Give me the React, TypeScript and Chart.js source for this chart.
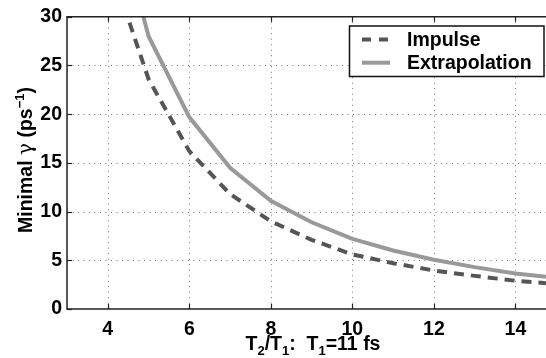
import React, { useEffect, useRef } from "react";
import { Chart, registerables } from "chart.js";

Chart.register(...registerables);

// T2/T1 ratios
const impulseX = [4, 5, 6, 7, 8, 9, 10, 11, 12, 13, 14, 14.75];
const impulseY = [36, 23.6, 16.2, 11.8, 9.0, 7.1, 5.6, 4.7, 3.95, 3.4, 2.9, 2.65];
const extrapX = [4.75, 5, 6, 7, 8, 9, 10, 11, 12, 13, 14, 14.75];
const extrapY = [32, 28, 19.7, 14.5, 11.1, 8.9, 7.2, 6.0, 5.05, 4.3, 3.65, 3.3];
const xTickValues = [4, 6, 8, 10, 12, 14];
const yTickValues = [0, 5, 10, 15, 20, 25, 30];
const legendLabels = ["Impulse", "Extrapolation"];

const FONT = "'Liberation Sans', Arial, sans-serif";
const FS = 19.5;

const framePlugin = {
  id: "matlabFrame",
  beforeDatasetsDraw(chart: any) {
    const { ctx, chartArea: a, scales } = chart;
    const xs = scales.x, ys = scales.y;
    ctx.save();
    ctx.strokeStyle = "#777";
    ctx.lineWidth = 1;
    ctx.setLineDash([1, 4.5]);
    xTickValues.forEach((v) => {
      const px = Math.round(xs.getPixelForValue(v)) + 0.5;
      ctx.beginPath();
      ctx.moveTo(px, a.top);
      ctx.lineTo(px, a.bottom);
      ctx.stroke();
    });
    yTickValues.forEach((v) => {
      if (v === 0 || v === 30) return;
      const py = Math.round(ys.getPixelForValue(v)) + 0.5;
      ctx.beginPath();
      ctx.moveTo(a.left, py);
      ctx.lineTo(a.right, py);
      ctx.stroke();
    });
    ctx.restore();
  },
  afterDraw(chart: any) {
    const { ctx, chartArea: a, scales } = chart;
    const xs = scales.x, ys = scales.y;
    ctx.save();
    // frame
    ctx.strokeStyle = "#222";
    ctx.lineWidth = 1.5;
    ctx.setLineDash([]);
    ctx.beginPath();
    ctx.moveTo(a.right, a.top);
    ctx.lineTo(a.left, a.top);
    ctx.lineTo(a.left, a.bottom);
    ctx.lineTo(a.right, a.bottom);
    ctx.stroke();
    // inward ticks
    ctx.lineWidth = 1.2;
    xTickValues.forEach((v) => {
      const px = Math.round(xs.getPixelForValue(v)) + 0.5;
      ctx.beginPath();
      ctx.moveTo(px, a.bottom);
      ctx.lineTo(px, a.bottom - 5);
      ctx.moveTo(px, a.top);
      ctx.lineTo(px, a.top + 5);
      ctx.stroke();
    });
    yTickValues.forEach((v) => {
      const py = Math.round(ys.getPixelForValue(v)) + 0.5;
      ctx.beginPath();
      ctx.moveTo(a.left, py);
      ctx.lineTo(a.left + 5, py);
      ctx.stroke();
    });

    // legend
    const lx = 349.5, ly = 26, lw = 194.5, lh = 50.5;
    ctx.fillStyle = "#fff";
    ctx.fillRect(lx, ly, lw, lh);
    ctx.strokeStyle = "#111";
    ctx.lineWidth = 1.5;
    ctx.strokeRect(lx, ly, lw, lh);
    const rows = [39.5, 62.7];
    ctx.lineWidth = 4;
    ctx.strokeStyle = "#555";
    ctx.setLineDash([9, 8]);
    ctx.beginPath();
    ctx.moveTo(362, rows[0]);
    ctx.lineTo(390, rows[0]);
    ctx.stroke();
    ctx.setLineDash([]);
    ctx.strokeStyle = "#999";
    ctx.beginPath();
    ctx.moveTo(362, rows[1]);
    ctx.lineTo(390, rows[1]);
    ctx.stroke();
    ctx.fillStyle = "#000";
    ctx.font = `bold ${FS}px ${FONT}`;
    ctx.textBaseline = "middle";
    ctx.textAlign = "left";
    ctx.fillText(legendLabels[0], 407, rows[0] + 1);
    ctx.fillText(legendLabels[1], 407, rows[1] + 1);

    // mixed-text helper
    type Piece = { t: string; f: string; dy: number };
    const drawPieces = (pieces: Piece[], x0: number, y0: number) => {
      let w = 0;
      pieces.forEach((p) => {
        ctx.font = p.f;
        w += ctx.measureText(p.t).width;
      });
      let x = x0 - w / 2;
      ctx.textBaseline = "alphabetic";
      ctx.textAlign = "left";
      pieces.forEach((p) => {
        ctx.font = p.f;
        ctx.fillText(p.t, x, y0 + p.dy);
        x += ctx.measureText(p.t).width;
      });
    };
    const B = `bold ${FS}px ${FONT}`;
    const S = `bold 13px ${FONT}`;

    // x title
    ctx.fillStyle = "#000";
    drawPieces(
      [
        { t: "T", f: B, dy: 0 },
        { t: "2", f: S, dy: 5 },
        { t: "/T", f: B, dy: 0 },
        { t: "1", f: S, dy: 5 },
        { t: ":  T", f: B, dy: 0 },
        { t: "1", f: S, dy: 5 },
        { t: "=11 fs", f: B, dy: 0 },
      ],
      313,
      349.5
    );

    // y title
    ctx.save();
    ctx.translate(32, 160);
    ctx.rotate(-Math.PI / 2);
    drawPieces(
      [
        { t: "Minimal ", f: B, dy: 0 },
        { t: "γ", f: `20px 'DejaVu Serif', serif`, dy: 0 },
        { t: " (ps", f: B, dy: 0 },
        { t: "−1", f: S, dy: -8 },
        { t: ")", f: B, dy: 0 },
      ],
      0,
      0
    );
    ctx.restore();
    ctx.restore();
  },
};

export default function App() {
  const ref = useRef<HTMLCanvasElement | null>(null);
  useEffect(() => {
    document.body.style.margin = "0";
    const canvas = ref.current;
    if (!canvas) return;
    const chart = new Chart(canvas, {
      type: "line",
      data: {
        datasets: [
          {
            label: legendLabels[0],
            data: impulseX.map((x, i) => ({ x, y: impulseY[i] })),
            borderColor: "#555",
            borderWidth: 4,
            borderDash: [10, 7],
            pointRadius: 0,
            tension: 0,
            fill: false,
          },
          {
            label: legendLabels[1],
            data: extrapX.map((x, i) => ({ x, y: extrapY[i] })),
            borderColor: "#999",
            borderWidth: 4,
            pointRadius: 0,
            tension: 0,
            fill: false,
          },
        ],
      },
      options: {
        animation: false,
        responsive: false,
        devicePixelRatio: 1,
        layout: { padding: { top: 16, right: 0, left: 0, bottom: 0 } },
        plugins: { legend: { display: false }, tooltip: { enabled: false } },
        scales: {
          x: {
            type: "linear",
            min: 3,
            max: 14.75,
            grid: { display: false, drawTicks: false },
            border: { display: false },
            afterBuildTicks: (s: any) => {
              s.ticks = xTickValues.map((v) => ({ value: v }));
            },
            afterFit: (s: any) => {
              s.height = 49;
            },
            ticks: {
              color: "#000",
              padding: 9,
              maxRotation: 0,
              autoSkip: false,
              font: { family: FONT, size: FS, weight: "bold" },
            },
          },
          y: {
            type: "linear",
            min: 0,
            max: 30,
            grid: { display: false, drawTicks: false },
            border: { display: false },
            afterBuildTicks: (s: any) => {
              s.ticks = yTickValues.map((v) => ({ value: v }));
            },
            afterFit: (s: any) => {
              s.width = 67;
            },
            ticks: {
              color: "#000",
              padding: 5,
              autoSkip: false,
              font: { family: FONT, size: FS, weight: "bold" },
            },
          },
        },
      } as any,
      plugins: [framePlugin],
    });
    return () => chart.destroy();
  }, []);
  return (
    <div style={{ width: 546, height: 358, background: "#fff" }}>
      <canvas ref={ref} width={546} height={358} style={{ display: "block" }} />
    </div>
  );
}
